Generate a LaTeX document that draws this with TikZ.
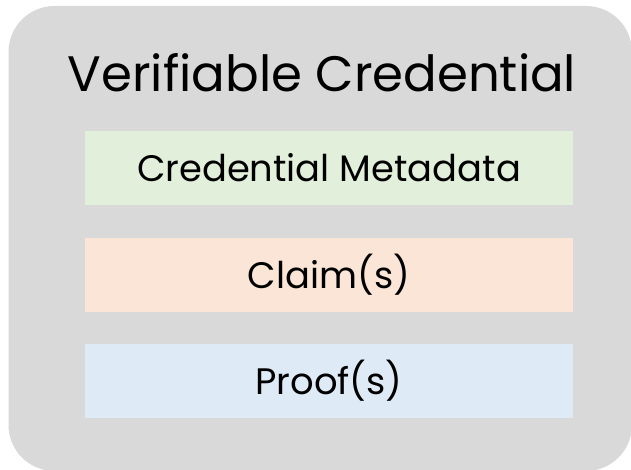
\documentclass[tikz,border=0pt]{standalone}
\usepackage{fontspec}
\setmainfont{Poppins}
\definecolor{cardgray}{HTML}{D9D9D9}
\definecolor{metagreen}{HTML}{E2EFDA}
\definecolor{claimorange}{HTML}{FBE5D6}
\definecolor{proofblue}{HTML}{DEEBF7}
\tikzset{
  band/.style={inner sep=0pt, minimum width=488bp, minimum height=74bp,
    font=\fontsize{37}{42}\selectfont, text=black},
}
\begin{document}
\begin{tikzpicture}[x=1bp,y=-1bp]
  % canvas
  \fill[white] (0,0) rectangle (631,470);
  \useasboundingbox (0,0) rectangle (631,470);
  % credential card
  \fill[cardgray, rounded corners=46bp] (8.5,6) rectangle (632,471);
  % title
  \node[anchor=base, inner sep=0pt, font=\fontsize{50}{56}\selectfont] (title) at (322,92) {Verifiable Credential};
  % sections
  \node[band, fill=metagreen]   (meta)  at (329,168) {Credential Metadata};
  \node[band, fill=claimorange] (claim) at (329,275) {Claim(s)};
  \node[band, fill=proofblue]   (proof) at (329,381) {Proof(s)};
\end{tikzpicture}
\end{document}
